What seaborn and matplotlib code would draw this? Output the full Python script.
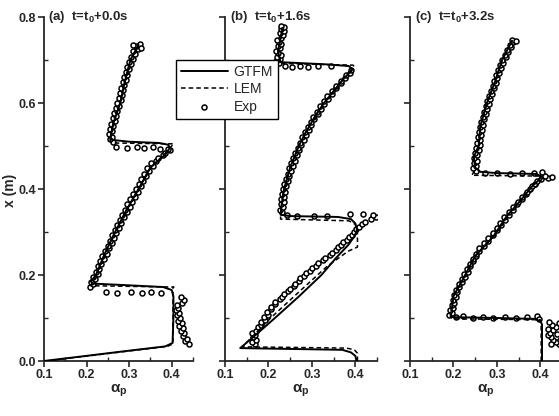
import numpy as np
import pandas as pd
import seaborn as sns
import matplotlib.pyplot as plt
from matplotlib.ticker import MultipleLocator

# ---- data (position x in m, particle fraction alpha_p) ----
titles = ["(a)  t=t$_0$+0.0s", "(b)  t=t$_0$+1.6s", "(c)  t=t$_0$+3.2s"]

gtfm_a_x = [0.000, 0.012, 0.024, 0.034, 0.042, 0.100, 0.150, 0.165, 0.172, 0.176, 0.180, 0.185, 0.200, 0.250, 0.300,
            0.350, 0.400, 0.450, 0.480, 0.495, 0.503, 0.507, 0.510, 0.514, 0.520, 0.550, 0.600, 0.650, 0.700, 0.735]
gtfm_a_alpha = [0.100, 0.200, 0.300, 0.385, 0.402, 0.404, 0.404, 0.400, 0.380, 0.300, 0.215, 0.210, 0.222, 0.243, 0.267,
                0.293, 0.322, 0.350, 0.385, 0.395, 0.392, 0.370, 0.300, 0.262, 0.256, 0.262, 0.279, 0.290, 0.303, 0.322]
lem_a_x = [0.000, 0.012, 0.024, 0.034, 0.040, 0.100, 0.170, 0.172, 0.175, 0.200, 0.250, 0.300, 0.350, 0.400, 0.450,
           0.480, 0.500, 0.505, 0.507, 0.512, 0.520, 0.550, 0.600, 0.650, 0.700, 0.735]
lem_a_alpha = [0.105, 0.205, 0.305, 0.390, 0.403, 0.403, 0.403, 0.405, 0.210, 0.222, 0.243, 0.267, 0.293, 0.322, 0.350,
               0.382, 0.400, 0.405, 0.262, 0.255, 0.256, 0.262, 0.279, 0.290, 0.303, 0.322]
exp_a_x = [0.040, 0.046, 0.052, 0.058, 0.064, 0.070, 0.076, 0.082, 0.088, 0.094, 0.100, 0.106, 0.112, 0.118, 0.124,
           0.130, 0.136, 0.142, 0.148,
           0.160, 0.158, 0.160, 0.159, 0.161, 0.158,
           0.172, 0.178, 0.184, 0.190, 0.196, 0.202, 0.208, 0.214, 0.220, 0.226, 0.232, 0.238, 0.244, 0.250, 0.256,
           0.262, 0.268, 0.274, 0.280, 0.286, 0.292, 0.298, 0.304, 0.310, 0.316, 0.322, 0.328, 0.334, 0.340, 0.346,
           0.352, 0.358, 0.364, 0.370, 0.376, 0.382, 0.388, 0.394, 0.400, 0.406, 0.412, 0.418, 0.424, 0.430, 0.436,
           0.442, 0.448, 0.454, 0.460, 0.466, 0.472, 0.478, 0.484, 0.490, 0.494,
           0.498, 0.496, 0.497, 0.495, 0.498, 0.494,
           0.510, 0.516, 0.522, 0.528, 0.534, 0.540, 0.546, 0.552, 0.558, 0.564, 0.570, 0.576, 0.582, 0.588, 0.594,
           0.600, 0.606, 0.612, 0.618, 0.624, 0.630, 0.636, 0.642, 0.648, 0.654, 0.660, 0.666, 0.672, 0.678, 0.684,
           0.690, 0.696, 0.702, 0.708, 0.714, 0.720, 0.726, 0.732, 0.738, 0.735, 0.729]
exp_a_alpha = [0.440, 0.432, 0.436, 0.426, 0.430, 0.421, 0.426, 0.417, 0.423, 0.414, 0.420, 0.412, 0.418, 0.410, 0.415,
               0.412, 0.424, 0.430, 0.422,
               0.245, 0.272, 0.305, 0.330, 0.352, 0.375,
               0.208, 0.215, 0.211, 0.219, 0.216, 0.227, 0.222, 0.230, 0.226, 0.233, 0.231, 0.240, 0.236, 0.247, 0.243,
               0.252, 0.250, 0.259, 0.255, 0.264, 0.260, 0.270, 0.266, 0.276, 0.271, 0.281, 0.278, 0.288, 0.284, 0.294,
               0.291, 0.301, 0.296, 0.307, 0.303, 0.313, 0.309, 0.320, 0.316, 0.327, 0.322, 0.333, 0.328, 0.339, 0.335,
               0.346, 0.343, 0.355, 0.352, 0.364, 0.368, 0.380, 0.384, 0.396, 0.392,
               0.268, 0.296, 0.318, 0.334, 0.356, 0.372,
               0.262, 0.255, 0.259, 0.253, 0.260, 0.255, 0.263, 0.258, 0.266, 0.261, 0.269, 0.264, 0.272, 0.268, 0.276,
               0.272, 0.280, 0.276, 0.283, 0.279, 0.286, 0.282, 0.289, 0.285, 0.292, 0.288, 0.296, 0.292, 0.300, 0.296,
               0.305, 0.300, 0.309, 0.305, 0.314, 0.310, 0.320, 0.316, 0.325, 0.310, 0.328]

gtfm_b_x = [0.000, 0.012, 0.020, 0.026, 0.030, 0.060, 0.100, 0.150, 0.200, 0.240, 0.270, 0.290, 0.305, 0.320, 0.330,
            0.335, 0.337, 0.340, 0.360, 0.400, 0.450, 0.500, 0.530, 0.570, 0.600, 0.625, 0.655, 0.672, 0.680, 0.686,
            0.690, 0.695, 0.720, 0.750, 0.775]
gtfm_b_alpha = [0.403, 0.400, 0.390, 0.370, 0.135, 0.170, 0.215, 0.270, 0.322, 0.356, 0.384, 0.398, 0.404, 0.400, 0.390,
                0.360, 0.250, 0.228, 0.230, 0.236, 0.250, 0.270, 0.285, 0.308, 0.328, 0.348, 0.372, 0.388, 0.392, 0.385,
                0.330, 0.228, 0.222, 0.228, 0.232]
lem_b_x = [0.000, 0.018, 0.026, 0.030, 0.033, 0.100, 0.165, 0.220, 0.255, 0.265, 0.300, 0.318, 0.326, 0.330, 0.340,
           0.360, 0.400, 0.450, 0.500, 0.530, 0.570, 0.600, 0.625, 0.655, 0.672, 0.684, 0.688, 0.692, 0.720, 0.750, 0.775]
lem_b_alpha = [0.405, 0.405, 0.398, 0.380, 0.140, 0.205, 0.275, 0.335, 0.383, 0.405, 0.405, 0.400, 0.385, 0.228, 0.228,
               0.230, 0.236, 0.250, 0.270, 0.285, 0.308, 0.328, 0.348, 0.372, 0.390, 0.398, 0.395, 0.228, 0.222, 0.228,
               0.232]
exp_b_x = [0.040, 0.045, 0.050, 0.055, 0.060, 0.065, 0.070,
           0.078, 0.084, 0.090, 0.096, 0.102, 0.108, 0.114, 0.120, 0.126, 0.132, 0.138, 0.144, 0.150, 0.156, 0.162,
           0.168, 0.174, 0.180, 0.186, 0.192, 0.198, 0.204, 0.210, 0.216, 0.222, 0.228, 0.234, 0.240, 0.246, 0.252,
           0.258, 0.264, 0.270, 0.276, 0.282, 0.288, 0.294, 0.300, 0.306, 0.312, 0.318, 0.324, 0.330, 0.336, 0.340,
           0.340, 0.338, 0.337, 0.338, 0.342, 0.341,
           0.346, 0.352, 0.358, 0.364, 0.370, 0.376, 0.382, 0.388, 0.394, 0.400, 0.406, 0.412, 0.418, 0.424, 0.430,
           0.436, 0.442, 0.448, 0.454, 0.460, 0.466, 0.472, 0.478, 0.484, 0.490, 0.496, 0.502, 0.508, 0.514, 0.520,
           0.526, 0.532, 0.538, 0.544, 0.550, 0.556, 0.562, 0.568, 0.574, 0.580, 0.586, 0.592, 0.598, 0.604, 0.610,
           0.616, 0.622, 0.628, 0.634, 0.640, 0.646, 0.652, 0.658, 0.664, 0.670, 0.676,
           0.686, 0.684, 0.686, 0.684, 0.687, 0.685,
           0.692, 0.697, 0.702, 0.707, 0.712, 0.717, 0.722, 0.727, 0.732, 0.737, 0.742, 0.747, 0.752, 0.757, 0.762,
           0.767, 0.772, 0.777, 0.780]
exp_b_alpha = [0.170, 0.163, 0.171, 0.165, 0.169, 0.162, 0.172,
               0.176, 0.184, 0.182, 0.192, 0.190, 0.199, 0.197, 0.207, 0.205, 0.216, 0.214, 0.226, 0.231, 0.236, 0.245,
               0.249, 0.258, 0.261, 0.270, 0.273, 0.283, 0.286, 0.295, 0.300, 0.310, 0.314, 0.325, 0.330, 0.341, 0.346,
               0.355, 0.360, 0.368, 0.372, 0.381, 0.386, 0.393, 0.396, 0.402, 0.408, 0.415, 0.423, 0.436, 0.447, 0.440,
               0.242, 0.266, 0.305, 0.335, 0.388, 0.418,
               0.231, 0.226, 0.233, 0.228, 0.235, 0.229, 0.236, 0.231, 0.239, 0.234, 0.241, 0.237, 0.244, 0.240, 0.248,
               0.244, 0.252, 0.248, 0.256, 0.252, 0.261, 0.257, 0.266, 0.262, 0.271, 0.267, 0.275, 0.273, 0.281, 0.278,
               0.287, 0.284, 0.293, 0.290, 0.299, 0.297, 0.306, 0.303, 0.313, 0.311, 0.320, 0.318, 0.328, 0.327, 0.337,
               0.336, 0.346, 0.346, 0.355, 0.356, 0.366, 0.367, 0.376, 0.378, 0.388, 0.390,
               0.238, 0.255, 0.272, 0.292, 0.315, 0.345,
               0.224, 0.218, 0.226, 0.220, 0.229, 0.222, 0.218, 0.227, 0.221, 0.230, 0.224, 0.219, 0.228, 0.233, 0.226,
               0.235, 0.229, 0.236, 0.228]

gtfm_c_x = [0.000, 0.085, 0.093, 0.098, 0.100, 0.102, 0.110, 0.151, 0.190, 0.244, 0.290, 0.337, 0.368, 0.407, 0.422,
            0.430, 0.435, 0.437, 0.440, 0.450, 0.475, 0.500, 0.546, 0.600, 0.650, 0.700, 0.735, 0.745]
gtfm_c_alpha = [0.404, 0.404, 0.400, 0.385, 0.300, 0.195, 0.195, 0.200, 0.222, 0.250, 0.292, 0.323, 0.350, 0.382, 0.398,
                0.402, 0.390, 0.300, 0.262, 0.250, 0.247, 0.258, 0.262, 0.277, 0.296, 0.312, 0.330, 0.335]
lem_c_x = [0.000, 0.090, 0.096, 0.098, 0.102, 0.151, 0.190, 0.244, 0.290, 0.337, 0.368, 0.395, 0.410, 0.425, 0.430,
           0.432, 0.436, 0.450, 0.475, 0.500, 0.546, 0.600, 0.650, 0.700, 0.735, 0.745]
lem_c_alpha = [0.402, 0.402, 0.400, 0.200, 0.193, 0.200, 0.222, 0.250, 0.292, 0.323, 0.350, 0.380, 0.395, 0.405, 0.400,
               0.242, 0.245, 0.250, 0.247, 0.258, 0.262, 0.277, 0.296, 0.312, 0.330, 0.335]
exp_c_x = [0.030, 0.035, 0.040, 0.045, 0.050, 0.055, 0.060, 0.066, 0.072, 0.078, 0.084, 0.090, 0.040, 0.050, 0.062,
           0.075, 0.088,
           0.102, 0.104, 0.101, 0.103, 0.101, 0.103, 0.101, 0.103, 0.104, 0.098,
           0.106, 0.112, 0.118, 0.124, 0.130, 0.136, 0.142, 0.148, 0.154, 0.160, 0.166, 0.172, 0.178, 0.184, 0.190,
           0.196, 0.202, 0.208, 0.214, 0.220, 0.226, 0.232, 0.238, 0.244, 0.250, 0.256, 0.262, 0.268, 0.274, 0.280,
           0.286, 0.292, 0.298, 0.304, 0.310, 0.316, 0.322, 0.328, 0.334, 0.340, 0.346, 0.352, 0.358, 0.364, 0.370,
           0.376, 0.382, 0.388, 0.394, 0.400, 0.406, 0.412, 0.418, 0.424, 0.426, 0.428, 0.431,
           0.437, 0.438, 0.436, 0.438, 0.437, 0.440,
           0.442, 0.448, 0.454, 0.460, 0.466, 0.472, 0.478, 0.484, 0.490, 0.496, 0.502, 0.508, 0.514, 0.520, 0.526,
           0.532, 0.538, 0.544, 0.550, 0.556, 0.562, 0.568, 0.574, 0.580, 0.586, 0.592, 0.598, 0.604, 0.610, 0.616,
           0.622, 0.628, 0.634, 0.640, 0.646, 0.652, 0.658, 0.664, 0.670, 0.676, 0.682, 0.688, 0.694, 0.700, 0.706,
           0.712, 0.718, 0.724, 0.730, 0.736, 0.742, 0.746, 0.744]
exp_c_alpha = [0.455, 0.448, 0.442, 0.436, 0.430, 0.424, 0.418, 0.423, 0.430, 0.436, 0.428, 0.420, 0.425, 0.445, 0.438,
               0.418, 0.442,
               0.205, 0.222, 0.245, 0.268, 0.290, 0.318, 0.345, 0.370, 0.392, 0.398,
               0.190, 0.197, 0.193, 0.200, 0.196, 0.202, 0.199, 0.205, 0.202, 0.209, 0.206, 0.213, 0.212, 0.220, 0.219,
               0.227, 0.225, 0.233, 0.231, 0.239, 0.238, 0.246, 0.245, 0.253, 0.252, 0.260, 0.260, 0.270, 0.270, 0.280,
               0.280, 0.291, 0.290, 0.300, 0.300, 0.309, 0.308, 0.318, 0.317, 0.327, 0.327, 0.337, 0.337, 0.347, 0.348,
               0.357, 0.358, 0.367, 0.369, 0.377, 0.380, 0.388, 0.392, 0.402, 0.418, 0.427, 0.412,
               0.272, 0.300, 0.330, 0.358, 0.385, 0.405,
               0.252, 0.246, 0.253, 0.247, 0.254, 0.248, 0.255, 0.250, 0.258, 0.253, 0.261, 0.255, 0.262, 0.257, 0.264,
               0.259, 0.266, 0.261, 0.268, 0.264, 0.271, 0.267, 0.274, 0.270, 0.278, 0.274, 0.282, 0.278, 0.285, 0.282,
               0.289, 0.286, 0.293, 0.290, 0.297, 0.294, 0.301, 0.298, 0.305, 0.303, 0.310, 0.307, 0.314, 0.312, 0.320,
               0.318, 0.326, 0.324, 0.332, 0.330, 0.338, 0.334, 0.344]

panels = [
    (gtfm_a_x, gtfm_a_alpha, lem_a_x, lem_a_alpha, exp_a_x, exp_a_alpha),
    (gtfm_b_x, gtfm_b_alpha, lem_b_x, lem_b_alpha, exp_b_x, exp_b_alpha),
    (gtfm_c_x, gtfm_c_alpha, lem_c_x, lem_c_alpha, exp_c_x, exp_c_alpha),
]

sns.set_theme(style="ticks")
plt.rcParams['font.family'] = ['Liberation Sans', 'DejaVu Sans']
plt.rcParams['mathtext.default'] = 'regular'

fig = plt.figure(figsize=(5.59, 4.16), dpi=100)
lefts = [44 / 559, 225 / 559, 410 / 559]
widths = [149 / 559, 152 / 559, 152 / 559]
axes = []
for i, (gx, ga, lx, la, ex, ea) in enumerate(panels):
    ax = fig.add_axes([lefts[i], 55 / 416, widths[i], 344 / 416])
    sns.lineplot(x=ga, y=gx, sort=False, estimator=None, color='black', lw=1.4, ax=ax,
                 label='GTFM', zorder=4)
    sns.lineplot(x=la, y=lx, sort=False, estimator=None, color='black', lw=1.1, ax=ax,
                 linestyle=(0, (3, 2)), label='LEM', zorder=4)
    sns.scatterplot(x=ea, y=ex, marker='o', s=13, facecolor='white', edgecolor='black',
                    linewidth=1.1, ax=ax, label='Exp', zorder=3)
    ax.get_legend().remove()
    ax.set_xlim(0.1, 0.45)
    ax.set_ylim(0.0, 0.8)
    ax.xaxis.set_major_locator(MultipleLocator(0.1))
    ax.xaxis.set_minor_locator(MultipleLocator(0.05))
    ax.yaxis.set_major_locator(MultipleLocator(0.2))
    ax.yaxis.set_minor_locator(MultipleLocator(0.1))
    ax.set_xticks([0.1, 0.2, 0.3, 0.4])
    ax.set_xticklabels(['0.1', '0.2', '0.3', '0.4'], fontweight='bold', fontsize=9)
    if i == 0:
        ax.set_yticklabels([f'{v:.1f}' for v in ax.get_yticks()], fontweight='bold', fontsize=9)
    else:
        ax.tick_params(axis='y', labelleft=False)
    ax.tick_params(which='major', direction='out', length=4, width=1.2, pad=2)
    ax.tick_params(which='minor', direction='in', length=3, width=1.0)
    sns.despine(ax=ax)
    for s in ['left', 'bottom']:
        ax.spines[s].set_linewidth(1.3)
    ax.set_xlabel(r'$\alpha_p$', fontsize=11, fontweight='bold', labelpad=1)
    ax.set_ylabel('')
    ax.text(0.03, 1.0, titles[i], transform=ax.transAxes, va='center', ha='left',
            fontsize=9.5, fontweight='bold')
    axes.append(ax)

fig.text(10 / 559, 1 - 190 / 416, 'x (m)', rotation=90, va='center', ha='center',
         fontsize=10, fontweight='bold')

handles, labels = axes[0].get_legend_handles_labels()
leg = fig.legend(handles, labels, loc='upper left', bbox_to_anchor=(176 / 559, 1 - 60 / 416),
                 frameon=True, fancybox=False, framealpha=1, edgecolor='black', borderaxespad=0,
                 fontsize=10, handlelength=3.4, borderpad=0.35, labelspacing=0.25, handletextpad=0.4)
leg.get_frame().set_linewidth(1.0)

fig.savefig('out.png', dpi=100)
